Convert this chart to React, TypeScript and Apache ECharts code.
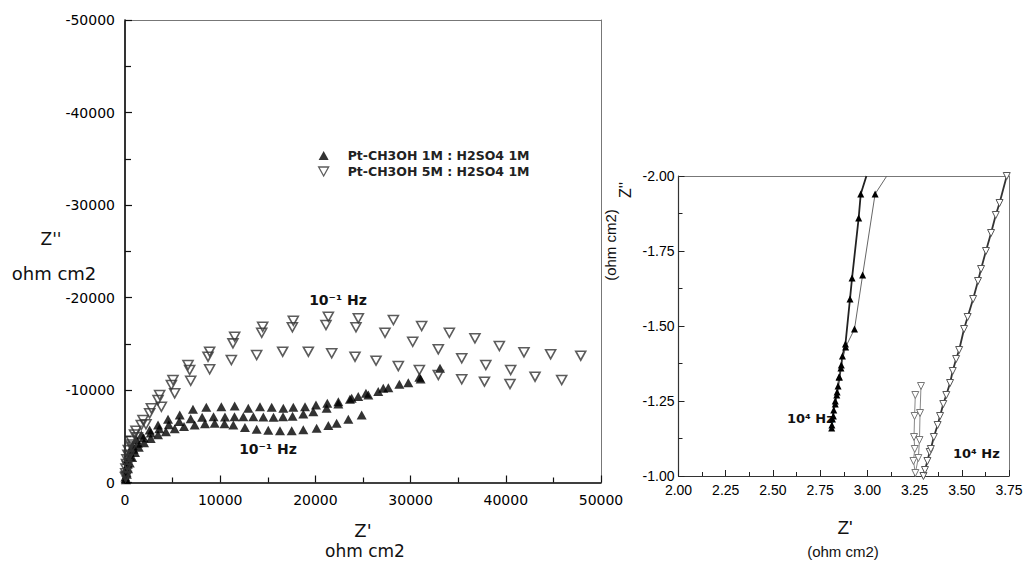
import React, { useEffect, useRef } from 'react';
import * as echarts from 'echarts';

// ---------- Left panel: Nyquist plot (Z' vs Z'', ohm cm2) ----------
const leftXTicks = [0, 10000, 20000, 30000, 40000, 50000];
const leftYTicks = [-50000, -40000, -30000, -20000, -10000, 0];

// Pt-CH3OH 1M : H2SO4 1M (filled triangles), three measurement runs
const tri1M_runA: number[][] = [
  [40, -600], [120, -1500], [250, -2400], [490, -3300], [800, -4000], [1200, -4650],
  [1710, -5130], [2590, -5680], [3470, -6220], [4520, -6830], [5750, -7300], [7140, -7910],
  [8540, -8130], [10120, -8190], [11520, -8270], [12950, -8020], [14180, -8190], [15410, -8130],
  [16630, -8020], [17680, -8130], [18910, -8190], [20060, -8380], [21250, -8560], [22410, -8730],
  [23810, -9100], [25310, -9640], [27130, -10180], [28820, -10620], [30920, -11370], [33090, -12340],
];
const tri1M_runB: number[][] = [
  [60, -400], [150, -1100], [300, -2000], [550, -2800], [900, -3600], [1350, -4250],
  [1950, -4850], [2700, -5350], [3600, -5800], [4600, -6250], [5700, -6600], [6900, -6900],
  [8100, -7050], [9300, -7100], [10500, -7080], [11500, -7100], [12430, -7110], [13480, -7110],
  [14530, -7080], [15600, -7050], [16600, -7100], [17600, -7170], [18730, -7400], [19780, -7650],
  [21180, -8020], [22410, -8490], [23630, -8990], [24500, -9300], [25560, -9460], [26600, -9850],
  [27660, -10250], [29760, -10790], [31050, -11190],
];
const tri1M_runC: number[][] = [
  [100, -300], [200, -900], [320, -1500], [500, -2100], [750, -2700], [1050, -3250],
  [1450, -3800], [2000, -4300], [2700, -4750], [3470, -5150], [4300, -5500], [5220, -5800],
  [6200, -6050], [7320, -6220], [8400, -6350], [9420, -6400], [10450, -6350], [11380, -6220],
  [12600, -5950], [13830, -5750], [15050, -5650], [16280, -5600], [17510, -5600], [18730, -5700],
  [20130, -5860], [21360, -6150], [22230, -6400], [23460, -6830], [24860, -7300],
];

// Pt-CH3OH 5M : H2SO4 1M (open inverted triangles), three measurement runs
const inv5M_runA: number[][] = [
  [50, -600], [100, -1500], [200, -2500], [350, -3500], [650, -4500], [1150, -5600],
  [1890, -6760], [2770, -8020], [3640, -9460], [5040, -11080], [6620, -12700], [8890, -14140],
  [11520, -15760], [14460, -16840], [17680, -17490], [21360, -17920], [24510, -17750], [28190, -17570],
  [31160, -16920], [34070, -16190], [36760, -15590], [39320, -14760], [41910, -14070], [44710, -13860],
  [47870, -13710],
];
const inv5M_runB: number[][] = [
  [80, -1000], [160, -2000], [300, -3000], [550, -4100], [1000, -5200], [1710, -6220],
  [2590, -7480], [3470, -8920], [4870, -10540], [6790, -12160], [8720, -13600], [11340, -15040],
  [14360, -16190], [17580, -16780], [21110, -17030], [24260, -16780], [27310, -16190], [30220, -15220],
  [32910, -14400], [35370, -13430], [37900, -12700], [40510, -12160], [43070, -11440], [45870, -11080],
];
const inv5M_runC: number[][] = [
  [120, -700], [250, -1800], [450, -2900], [800, -3900], [1300, -4900], [2200, -6300],
  [3820, -8190], [5220, -9640], [6900, -11000], [8890, -12240], [11170, -13240], [13830, -13780],
  [16560, -14140], [19260, -14140], [21710, -13970], [24160, -13600], [26370, -13170], [28710, -12590],
  [30920, -12160], [32910, -11620], [35370, -11160], [37760, -10900], [40440, -10650],
];

// ---------- Right panel: high-frequency detail ----------
const rightXTicks = [2.0, 2.25, 2.5, 2.75, 3.0, 3.25, 3.5, 3.75];
const rightYTicks = [-2.0, -1.75, -1.5, -1.25, -1.0];

const zoomTri1M_a: number[][] = [
  [2.811, -1.16], [2.815, -1.19], [2.822, -1.22], [2.83, -1.25], [2.838, -1.27], [2.845, -1.3],
  [2.852, -1.33], [2.86, -1.36], [2.868, -1.4], [2.884, -1.44], [2.908, -1.59], [2.919, -1.66],
  [2.954, -1.86], [2.965, -1.94], [2.995, -2.0],
];
const zoomTri1M_b: number[][] = [
  [2.812, -1.17], [2.82, -1.2], [2.83, -1.24], [2.84, -1.28], [2.85, -1.33], [2.862, -1.37],
  [2.885, -1.43], [2.932, -1.49], [2.975, -1.67], [3.041, -1.94], [3.103, -2.0],
];
const zoomInv5M_a: number[][] = [
  [3.254, -1.27], [3.25, -1.2], [3.247, -1.13], [3.251, -1.09], [3.244, -1.05], [3.254, -1.01],
  [3.27, -1.06], [3.276, -1.12], [3.279, -1.21], [3.284, -1.3],
];
const zoomInv5M_b: number[][] = [
  [3.297, -1.0], [3.305, -1.02], [3.318, -1.05], [3.33, -1.08], [3.336, -1.09], [3.352, -1.13],
  [3.372, -1.17], [3.385, -1.2], [3.402, -1.24], [3.418, -1.27], [3.438, -1.31], [3.452, -1.35],
  [3.47, -1.39], [3.486, -1.42], [3.512, -1.49], [3.531, -1.53], [3.56, -1.59], [3.586, -1.65],
  [3.602, -1.69], [3.628, -1.75], [3.655, -1.81], [3.68, -1.87], [3.7, -1.91], [3.738, -2.0],
];

const legendNames = ['Pt-CH3OH 1M : H2SO4 1M', 'Pt-CH3OH 5M : H2SO4 1M'];

const tickFont = 'DejaVu Sans';
const narrowFont = '"Liberation Sans Narrow", "Liberation Sans", sans-serif';

// last point of each zoom line is where the line leaves the frame: no marker there
const lineData = (arr: number[][], lastBare: boolean) =>
  arr.map((p, i) => (lastBare && i === arr.length - 1 ? { value: p, symbol: 'none' } : { value: p }));

const centered = { align: 'center', verticalAlign: 'middle', textAlign: 'center', textVerticalAlign: 'middle' };

function buildOption(): any {
  const frameAxis = (gridIndex: number, position: string, min: number, max: number, inverse = false) => ({
    type: 'value', gridIndex, position, min, max, inverse, silent: true,
    axisLine: { show: true, onZero: false, lineStyle: { color: '#777', width: 1 } },
    axisTick: { show: false }, axisLabel: { show: false }, splitLine: { show: false },
  });
  return {
    animation: false,
    backgroundColor: '#ffffff',
    grid: [
      { left: 125, top: 20, width: 476, height: 462.5 },
      { left: 678.5, top: 176, width: 330.5, height: 300 },
    ],
    xAxis: [
      {
        type: 'value', gridIndex: 0, position: 'bottom', min: leftXTicks[0], max: leftXTicks[leftXTicks.length - 1], interval: 10000,
        axisLine: { show: true, onZero: false, lineStyle: { color: '#000', width: 1.6 } },
        splitLine: { show: false },
        axisTick: { inside: true, length: 7, lineStyle: { color: '#111', width: 1.2 } },
        minorTick: { show: true, splitNumber: 2, length: 5, lineStyle: { color: '#111', width: 1.2 } },
        axisLabel: { formatter: (v: number) => String(v), fontFamily: tickFont, fontSize: 14, color: '#000', margin: 10 },
      },
      {
        type: 'value', gridIndex: 1, position: 'bottom', min: rightXTicks[0], max: rightXTicks[rightXTicks.length - 1], interval: 0.25,
        axisLine: { show: true, onZero: false, lineStyle: { color: '#333', width: 1.2 } },
        splitLine: { show: false },
        axisTick: { inside: true, length: 6, lineStyle: { color: '#222', width: 1 } },
        minorTick: { show: true, splitNumber: 2, length: 4, lineStyle: { color: '#222', width: 1 } },
        axisLabel: { formatter: (v: number) => v.toFixed(2), fontFamily: narrowFont, fontSize: 14, color: '#000', margin: 7 },
      },
      frameAxis(0, 'top', leftXTicks[0], leftXTicks[leftXTicks.length - 1]),
      frameAxis(1, 'top', rightXTicks[0], rightXTicks[rightXTicks.length - 1]),
    ],
    yAxis: [
      {
        type: 'value', gridIndex: 0, position: 'left', min: leftYTicks[0], max: leftYTicks[leftYTicks.length - 1], interval: 10000, inverse: true,
        axisLine: { show: true, onZero: false, lineStyle: { color: '#000', width: 1.6 } },
        splitLine: { show: false },
        axisTick: { inside: true, length: 7, lineStyle: { color: '#111', width: 1.2 } },
        minorTick: { show: true, splitNumber: 2, length: 6, lineStyle: { color: '#111', width: 1.2 } },
        axisLabel: { formatter: (v: number) => String(v), fontFamily: tickFont, fontSize: 14, color: '#000', margin: 10 },
      },
      {
        type: 'value', gridIndex: 1, position: 'left', min: rightYTicks[0], max: rightYTicks[rightYTicks.length - 1], interval: 0.25, inverse: true,
        axisLine: { show: true, onZero: false, lineStyle: { color: '#333', width: 1.2 } },
        splitLine: { show: false },
        axisTick: { inside: true, length: 6, lineStyle: { color: '#222', width: 1 } },
        minorTick: { show: true, splitNumber: 2, length: 4, lineStyle: { color: '#222', width: 1 } },
        axisLabel: { formatter: (v: number) => v.toFixed(2), fontFamily: narrowFont, fontSize: 14, color: '#000', margin: 4 },
      },
      frameAxis(0, 'right', leftYTicks[0], leftYTicks[leftYTicks.length - 1], true),
      frameAxis(1, 'right', rightYTicks[0], rightYTicks[rightYTicks.length - 1], true),
    ],
    legend: {
      data: [
        { name: legendNames[0], icon: 'triangle', itemStyle: { color: '#000', borderWidth: 0 } },
        {
          name: legendNames[1], icon: 'path://M0,0 L10,0 L5,9 Z',
          itemStyle: { color: 'rgba(255,255,255,0)', borderColor: '#333', borderWidth: 1.3 },
        },
      ],
      orient: 'vertical', left: 318, top: 149, padding: 0, itemGap: 3,
      itemWidth: 10, itemHeight: 9, selectedMode: false,
      textStyle: { fontFamily: 'DejaVu Sans', fontWeight: 'bold', fontSize: 12.5, color: '#222', padding: [0, 0, 0, 14] },
    },
    series: [
      {
        name: legendNames[0], type: 'scatter', xAxisIndex: 0, yAxisIndex: 0,
        data: [...tri1M_runA, ...tri1M_runB, ...tri1M_runC],
        symbol: 'triangle', symbolSize: [10, 9], silent: true,
        itemStyle: { color: '#000' },
      },
      {
        name: legendNames[1], type: 'scatter', xAxisIndex: 0, yAxisIndex: 0,
        data: [...inv5M_runA, ...inv5M_runB, ...inv5M_runC],
        symbol: 'triangle', symbolRotate: 180, symbolSize: [10, 9], silent: true,
        itemStyle: { color: 'rgba(255,255,255,0)', borderColor: '#333', borderWidth: 1.6 },
      },
      {
        name: 'detail 1M a', type: 'line', xAxisIndex: 1, yAxisIndex: 1, silent: true,
        data: lineData(zoomTri1M_a, true), symbol: 'triangle', symbolSize: 7, showSymbol: true,
        lineStyle: { color: '#222', width: 1.8 }, itemStyle: { color: '#000' },
      },
      {
        name: 'detail 1M b', type: 'line', xAxisIndex: 1, yAxisIndex: 1, silent: true,
        data: lineData(zoomTri1M_b, true), symbol: 'triangle', symbolSize: 7, showSymbol: true,
        lineStyle: { color: '#666', width: 1 }, itemStyle: { color: '#000' },
      },
      {
        name: 'detail 5M a', type: 'line', xAxisIndex: 1, yAxisIndex: 1, silent: true,
        data: lineData(zoomInv5M_a, false), symbol: 'triangle', symbolRotate: 180, symbolSize: 7, showSymbol: true,
        lineStyle: { color: '#888', width: 1 },
        itemStyle: { color: '#fff', borderColor: '#777', borderWidth: 1 },
      },
      {
        name: 'detail 5M b', type: 'line', xAxisIndex: 1, yAxisIndex: 1, silent: true,
        data: lineData(zoomInv5M_b, false), symbol: 'triangle', symbolRotate: 180, symbolSize: 7, showSymbol: true,
        lineStyle: { color: '#333', width: 1.8 },
        itemStyle: { color: '#fff', borderColor: '#555', borderWidth: 1 },
      },
    ],
    graphic: [
      // left panel titles
      { type: 'text', x: 51, y: 239, silent: true, style: { text: "Z''", fontFamily: 'DejaVu Sans', fontSize: 17, fill: '#111', ...centered } },
      { type: 'text', x: 54, y: 273, silent: true, style: { text: 'ohm cm2', fontFamily: 'DejaVu Sans', fontSize: 18, fill: '#111', ...centered } },
      { type: 'text', x: 363, y: 530, silent: true, style: { text: "Z'", fontFamily: 'DejaVu Sans', fontSize: 18, fill: '#111', ...centered } },
      { type: 'text', x: 365, y: 551, silent: true, style: { text: 'ohm cm2', fontFamily: 'DejaVu Sans', fontSize: 17, fill: '#111', ...centered } },
      // frequency annotations, left panel
      { type: 'text', x: 338, y: 300, silent: true, style: { text: '10⁻¹ Hz', fontFamily: 'DejaVu Sans', fontWeight: 'bold', fontSize: 14, fill: '#111', ...centered } },
      { type: 'text', x: 268, y: 449, silent: true, style: { text: '10⁻¹ Hz', fontFamily: 'DejaVu Sans', fontWeight: 'bold', fontSize: 14, fill: '#111', ...centered } },
      // right panel titles
      { type: 'text', x: 625, y: 190, rotation: Math.PI / 2, silent: true, style: { text: "Z''", fontFamily: narrowFont, fontSize: 16, fill: '#111', ...centered } },
      { type: 'text', x: 610, y: 245, rotation: Math.PI / 2, silent: true, style: { text: '(ohm cm2)', fontFamily: narrowFont, fontSize: 15, fill: '#111', ...centered } },
      { type: 'text', x: 845, y: 527, silent: true, style: { text: "Z'", fontFamily: narrowFont, fontSize: 19, fill: '#111', ...centered } },
      { type: 'text', x: 843, y: 551, silent: true, style: { text: '(ohm cm2)', fontFamily: narrowFont, fontSize: 15, fill: '#111', ...centered } },
      // frequency annotations, right panel
      { type: 'text', x: 787, y: 418, silent: true, style: { text: '10⁴ Hz', fontFamily: 'DejaVu Sans', fontWeight: 'bold', fontSize: 13, fill: '#111', align: 'left', verticalAlign: 'middle', textAlign: 'left', textVerticalAlign: 'middle' } },
      { type: 'text', x: 953, y: 453, silent: true, style: { text: '10⁴ Hz', fontFamily: 'DejaVu Sans', fontWeight: 'bold', fontSize: 13, fill: '#111', align: 'left', verticalAlign: 'middle', textAlign: 'left', textVerticalAlign: 'middle' } },
    ],
  };
}

export default function App() {
  const ref = useRef<HTMLDivElement>(null);
  useEffect(() => {
    document.body.style.margin = '0';
    if (!ref.current) return;
    const chart = echarts.init(ref.current, undefined, { renderer: 'svg' });
    chart.setOption(buildOption());
    return () => chart.dispose();
  }, []);
  return (
    <div
      ref={ref}
      style={{ position: 'absolute', left: 0, top: 0, width: 1026, height: 564, background: '#fff' }}
    />
  );
}
